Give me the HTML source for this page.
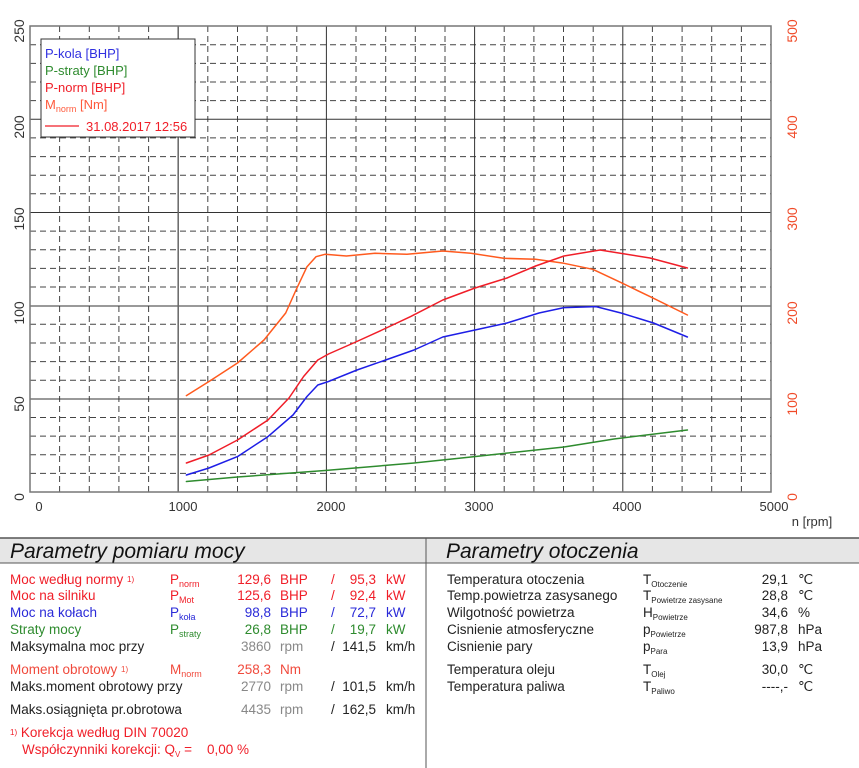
<!DOCTYPE html>
<html><head><meta charset="utf-8"><style>
html,body{margin:0;padding:0;background:#fff;}
svg{display:block;font-family:"Liberation Sans",Arial,sans-serif;}
</style></head><body>
<svg width="859" height="768" viewBox="0 0 859 768" xmlns="http://www.w3.org/2000/svg">
<rect width="859" height="768" fill="#fff"/>
<g id="grid" stroke="#333" stroke-width="1">
<g stroke-dasharray="6,4" stroke="#444">
<line x1="30" x2="771" y1="473.4" y2="473.4"/><line x1="30" x2="771" y1="454.8" y2="454.8"/><line x1="30" x2="771" y1="436.1" y2="436.1"/><line x1="30" x2="771" y1="417.5" y2="417.5"/>
<line x1="30" x2="771" y1="380.2" y2="380.2"/><line x1="30" x2="771" y1="361.6" y2="361.6"/><line x1="30" x2="771" y1="343" y2="343"/><line x1="30" x2="771" y1="324.3" y2="324.3"/>
<line x1="30" x2="771" y1="287" y2="287"/><line x1="30" x2="771" y1="268.4" y2="268.4"/><line x1="30" x2="771" y1="249.8" y2="249.8"/><line x1="30" x2="771" y1="231.1" y2="231.1"/>
<line x1="30" x2="771" y1="193.8" y2="193.8"/><line x1="30" x2="771" y1="175.2" y2="175.2"/><line x1="30" x2="771" y1="156.6" y2="156.6"/><line x1="30" x2="771" y1="137.9" y2="137.9"/>
<line x1="30" x2="771" y1="100.6" y2="100.6"/><line x1="30" x2="771" y1="82" y2="82"/><line x1="30" x2="771" y1="63.4" y2="63.4"/><line x1="30" x2="771" y1="44.7" y2="44.7"/>
<line y1="26" y2="492" x1="59.6" x2="59.6"/><line y1="26" y2="492" x1="89.3" x2="89.3"/><line y1="26" y2="492" x1="118.9" x2="118.9"/><line y1="26" y2="492" x1="148.6" x2="148.6"/>
<line y1="26" y2="492" x1="207.8" x2="207.8"/><line y1="26" y2="492" x1="237.5" x2="237.5"/><line y1="26" y2="492" x1="267.1" x2="267.1"/><line y1="26" y2="492" x1="296.8" x2="296.8"/>
<line y1="26" y2="492" x1="356" x2="356"/><line y1="26" y2="492" x1="385.7" x2="385.7"/><line y1="26" y2="492" x1="415.3" x2="415.3"/><line y1="26" y2="492" x1="445" x2="445"/>
<line y1="26" y2="492" x1="504.2" x2="504.2"/><line y1="26" y2="492" x1="533.9" x2="533.9"/><line y1="26" y2="492" x1="563.5" x2="563.5"/><line y1="26" y2="492" x1="593.2" x2="593.2"/>
<line y1="26" y2="492" x1="652.4" x2="652.4"/><line y1="26" y2="492" x1="682.1" x2="682.1"/><line y1="26" y2="492" x1="711.7" x2="711.7"/><line y1="26" y2="492" x1="741.4" x2="741.4"/>
</g>
<line x1="30" x2="771" y1="399" y2="399"/><line x1="30" x2="771" y1="306" y2="306"/><line x1="30" x2="771" y1="212.5" y2="212.5"/><line x1="30" x2="771" y1="119.3" y2="119.3"/>
<line y1="26" y2="492" x1="178.2" x2="178.2" stroke="#666" stroke-width="1.5"/><line y1="26" y2="492" x1="326.4" x2="326.4"/><line y1="26" y2="492" x1="474.6" x2="474.6"/><line y1="26" y2="492" x1="622.8" x2="622.8"/>
<rect x="30" y="26" width="741" height="466" fill="none" stroke="#777" stroke-width="1.5"/>
</g>
<g fill="none" stroke-width="1.5" stroke-linejoin="round" stroke-linecap="round">
<polyline stroke="#2e8b2e" points="186.4,481.5 237.5,477 325,470.5 414,463 471,457 564,447 614,439 687.4,430"/>
<polyline stroke="#ff5a1e" points="186.4,395.6 209,381.5 237.5,363 264,340 285.7,313 296,290 307,266.7 316,256.7 325,254.3 346.4,256 375,253.3 407,254.3 442.8,251 471,253.3 503.6,258.3 535.6,259.3 564,263.3 592.8,269.3 621,282.6 650,296.6 687.4,315"/>
<polyline stroke="#f01e28" points="186.4,463 209,455 237.5,440 268,420 289,398 303.6,376.5 317.8,360 328.5,354 353.5,343 382,330 410.6,316.6 442.8,300 475,288 507,278 535.6,266 564,256 600,250 650,258 687.4,268"/>
<polyline stroke="#1e1ee6" points="186.4,475 209,468 237.5,456.6 268,436.6 293,415 307,396.5 317.8,385 328.5,381.5 357,370 385.6,360 414,350 442.8,337 475,330 507,323 539,313 564,307.6 596,306.6 621,313 653.5,323 687.4,337"/>
</g>
<rect x="41" y="39" width="154" height="98" fill="#fff" stroke="#333" stroke-width="1"/>
<g font-size="13">
<text x="45" y="58" fill="#3030e0">P-kola [BHP]</text>
<text x="45" y="75" fill="#2e8b2e">P-straty [BHP]</text>
<text x="45" y="92" fill="#f01e28">P-norm [BHP]</text>
<text x="45" y="109" fill="#ff5a3c">M<tspan font-size="9" dy="3">norm</tspan><tspan dy="-3"> [Nm]</tspan></text>
<line x1="45" x2="79" y1="126" y2="126" stroke="#f01e28" stroke-width="1.2"/>
<text x="86" y="131" fill="#f01e28">31.08.2017 12:56</text>
</g>
<g font-size="14" fill="#333" text-anchor="middle">
<text transform="translate(24,497) rotate(-90)">0</text>
<text transform="translate(24,404) rotate(-90)">50</text>
<text transform="translate(24,313) rotate(-90)">100</text>
<text transform="translate(24,219) rotate(-90)">150</text>
<text transform="translate(24,127) rotate(-90)">200</text>
<text transform="translate(24,31) rotate(-90)">250</text>
</g>
<g font-size="14" fill="#f04a28" text-anchor="middle">
<text transform="translate(797,497) rotate(-90)">0</text>
<text transform="translate(797,404) rotate(-90)">100</text>
<text transform="translate(797,313) rotate(-90)">200</text>
<text transform="translate(797,219) rotate(-90)">300</text>
<text transform="translate(797,127) rotate(-90)">400</text>
<text transform="translate(797,31) rotate(-90)">500</text>
</g>
<g font-size="13" fill="#333" text-anchor="middle">
<text x="39" y="511">0</text><text x="183" y="511">1000</text><text x="331" y="511">2000</text><text x="479" y="511">3000</text><text x="627" y="511">4000</text><text x="774" y="511">5000</text>
<text x="812" y="526">n [rpm]</text>
</g>
<rect x="0" y="538" width="859" height="25" fill="#e6e6e6"/>
<line x1="0" x2="859" y1="538" y2="538" stroke="#555" stroke-width="1.5"/>
<line x1="0" x2="859" y1="563" y2="563" stroke="#555" stroke-width="1"/>
<line x1="426" x2="426" y1="538" y2="768" stroke="#555" stroke-width="1"/>
<g font-size="21" font-style="italic" fill="#111">
<text x="10" y="558">Parametry pomiaru mocy</text>
<text x="446" y="558">Parametry otoczenia</text>
</g>
<g font-size="13.5">
<g fill="#f01e28">
<text x="10" y="584">Moc według normy <tspan font-size="8" dy="-2">1)</tspan></text>
<text x="170" y="584">P<tspan font-size="9" dy="3">norm</tspan></text>
<text x="271" y="584" text-anchor="end">129,6</text><text x="280" y="584">BHP</text><text x="331" y="584">/</text><text x="376" y="584" text-anchor="end">95,3</text><text x="386" y="584">kW</text>
<text x="10" y="600">Moc na silniku</text>
<text x="170" y="600">P<tspan font-size="9" dy="3">Mot</tspan></text>
<text x="271" y="600" text-anchor="end">125,6</text><text x="280" y="600">BHP</text><text x="331" y="600">/</text><text x="376" y="600" text-anchor="end">92,4</text><text x="386" y="600">kW</text>
</g>
<g fill="#2a2ad8">
<text x="10" y="617">Moc na kołach</text>
<text x="170" y="617">P<tspan font-size="9" dy="3">koła</tspan></text>
<text x="271" y="617" text-anchor="end">98,8</text><text x="280" y="617">BHP</text><text x="331" y="617">/</text><text x="376" y="617" text-anchor="end">72,7</text><text x="386" y="617">kW</text>
</g>
<g fill="#2e8b2e">
<text x="10" y="634">Straty mocy</text>
<text x="170" y="634">P<tspan font-size="9" dy="3">straty</tspan></text>
<text x="271" y="634" text-anchor="end">26,8</text><text x="280" y="634">BHP</text><text x="331" y="634">/</text><text x="376" y="634" text-anchor="end">19,7</text><text x="386" y="634">kW</text>
</g>
<text x="10" y="651" fill="#222">Maksymalna moc przy</text>
<text x="271" y="651" text-anchor="end" fill="#888">3860</text><text x="280" y="651" fill="#888">rpm</text><text x="331" y="651" fill="#222">/</text><text x="376" y="651" text-anchor="end" fill="#222">141,5</text><text x="386" y="651" fill="#222">km/h</text>
<g fill="#f04a3c">
<text x="10" y="674">Moment obrotowy <tspan font-size="8" dy="-2">1)</tspan></text>
<text x="170" y="674">M<tspan font-size="9" dy="3">norm</tspan></text>
<text x="271" y="674" text-anchor="end">258,3</text><text x="280" y="674">Nm</text>
</g>
<text x="10" y="691" fill="#222">Maks.moment obrotowy przy</text>
<text x="271" y="691" text-anchor="end" fill="#888">2770</text><text x="280" y="691" fill="#888">rpm</text><text x="331" y="691" fill="#222">/</text><text x="376" y="691" text-anchor="end" fill="#222">101,5</text><text x="386" y="691" fill="#222">km/h</text>
<text x="10" y="714" fill="#222">Maks.osiągnięta pr.obrotowa</text>
<text x="271" y="714" text-anchor="end" fill="#888">4435</text><text x="280" y="714" fill="#888">rpm</text><text x="331" y="714" fill="#222">/</text><text x="376" y="714" text-anchor="end" fill="#222">162,5</text><text x="386" y="714" fill="#222">km/h</text>
<g fill="#f01e28">
<text x="10" y="737"><tspan font-size="8" dy="-2">1)</tspan><tspan dy="2"> Korekcja według DIN 70020</tspan></text>
<text x="22" y="754">Współczynniki korekcji: Q<tspan font-size="8" dy="3">V</tspan><tspan dy="-3"> =</tspan></text>
<text x="207" y="754">0,00 %</text>
</g>
<g fill="#222">
<text x="447" y="584">Temperatura otoczenia</text>
<text x="643" y="584">T<tspan font-size="8" dy="3">Otoczenie</tspan></text>
<text x="788" y="584" text-anchor="end">29,1</text><text x="798" y="584">℃</text>
<text x="447" y="600">Temp.powietrza zasysanego</text>
<text x="643" y="600">T<tspan font-size="8" dy="3">Powietrze zasysane</tspan></text>
<text x="788" y="600" text-anchor="end">28,8</text><text x="798" y="600">℃</text>
<text x="447" y="617">Wilgotność powietrza</text>
<text x="643" y="617">H<tspan font-size="8" dy="3">Powietrze</tspan></text>
<text x="788" y="617" text-anchor="end">34,6</text><text x="798" y="617">%</text>
<text x="447" y="634">Cisnienie atmosferyczne</text>
<text x="643" y="634">p<tspan font-size="8" dy="3">Powietrze</tspan></text>
<text x="788" y="634" text-anchor="end">987,8</text><text x="798" y="634">hPa</text>
<text x="447" y="651">Cisnienie pary</text>
<text x="643" y="651">p<tspan font-size="8" dy="3">Para</tspan></text>
<text x="788" y="651" text-anchor="end">13,9</text><text x="798" y="651">hPa</text>
<text x="447" y="674">Temperatura oleju</text>
<text x="643" y="674">T<tspan font-size="8" dy="3">Olej</tspan></text>
<text x="788" y="674" text-anchor="end">30,0</text><text x="798" y="674">℃</text>
<text x="447" y="691">Temperatura paliwa</text>
<text x="643" y="691">T<tspan font-size="8" dy="3">Paliwo</tspan></text>
<text x="788" y="691" text-anchor="end">----,-</text><text x="798" y="691">℃</text>
</g>
</g>
</svg>
</body></html>
